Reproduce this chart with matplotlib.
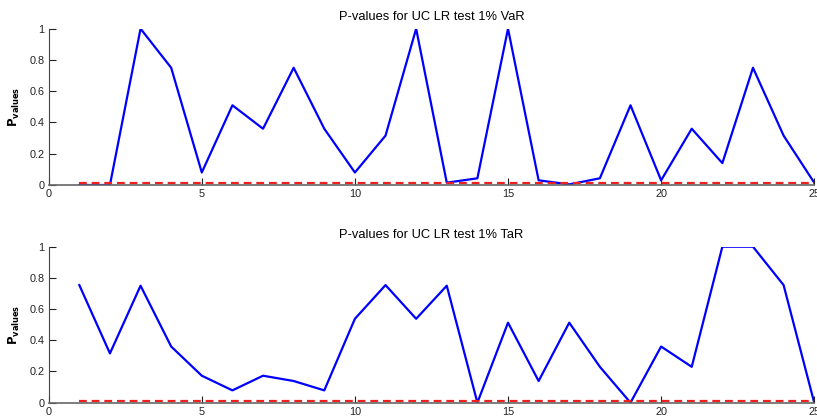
import numpy as np
import matplotlib
matplotlib.use('Agg')
import matplotlib.pyplot as plt

# dati
x = np.arange(1, 26)
pval_var = [0.0, 0.0, 1.0, 0.75, 0.08, 0.51, 0.36, 0.75, 0.36, 0.08, 0.316, 1.0, 0.015,
            0.043, 1.0, 0.03, 0.004, 0.043, 0.51, 0.03, 0.36, 0.14, 0.75, 0.316, 0.015]
pval_tar = [0.754, 0.316, 0.75, 0.36, 0.173, 0.079, 0.173, 0.139, 0.079, 0.538, 0.754, 0.538,
            0.75, 0.0, 0.513, 0.139, 0.513, 0.23, 0.0, 0.36, 0.23, 1.0, 1.0, 0.754, 0.0]
livello = 0.01
titoli = ['P-values for UC LR test 1% VaR', 'P-values for UC LR test 1% TaR']

plt.rcParams['font.family'] = ['Liberation Sans', 'DejaVu Sans']

fig = plt.figure(figsize=(8.17, 4.2), dpi=100)
pos = [[0.0596, 0.5595, 0.937, 0.3722], [0.0596, 0.0412, 0.937, 0.3714]]

for p, serie, tit in zip(pos, [pval_var, pval_tar], titoli):
    ax = fig.add_axes(p)
    ax.plot(x, serie, color='#0000ff', lw=1.6)
    ax.plot(x, [livello] * len(x), color='#ee2020', lw=1.6, ls=(0, (3.5, 2.2)))
    ax.set_xlim(0, 25)
    ax.set_ylim(0, 1)
    ax.set_xticks([0, 5, 10, 15, 20, 25])
    ax.set_yticks([0, 0.2, 0.4, 0.6, 0.8, 1])
    ax.set_yticklabels(['0', '0.2', '0.4', '0.6', '0.8', '1'])
    ax.tick_params(direction='in', length=5, width=0.8, labelsize=7.8, colors='#222222', pad=3)
    ax.tick_params(axis='x', pad=3)
    ax.spines['top'].set_visible(False)
    ax.spines['right'].set_visible(False)
    ax.spines['left'].set_color('#444444')
    ax.spines['bottom'].set_color('#666666')
    ax.spines['bottom'].set_linewidth(1.2)
    ax.set_title(tit, fontsize=9.3, pad=6)
    ax.set_ylabel(r'$\mathbf{P_{values}}$', fontsize=8.5, labelpad=5)

fig.savefig('out.png', dpi=100)
